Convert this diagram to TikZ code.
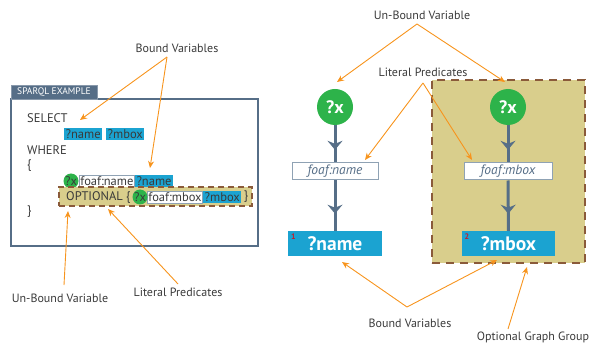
\documentclass[tikz,border=0pt]{standalone}
\usepackage{fontspec}
\setmainfont{PT Sans}
\usetikzlibrary{arrows.meta,decorations.markings}
\definecolor{slate}{HTML}{566E87}
\definecolor{cyanbox}{HTML}{1BA3D1}
\definecolor{greenc}{HTML}{2DB34A}
\definecolor{tanc}{HTML}{D9CE8C}
\definecolor{brownd}{HTML}{8A5A3A}
\definecolor{orangea}{HTML}{F7941D}
\definecolor{txt}{HTML}{3A3A3A}
\definecolor{foafb}{HTML}{8FA2B4}
\definecolor{redn}{HTML}{C0202E}
\tikzset{
  lbl/.style={font=\fontsize{12}{14}\selectfont, text=txt, inner sep=1pt},
  oarrow/.style={draw=orangea, line width=0.9pt, -{Stealth[length=7pt,width=6pt]}},
  code/.style={font=\fontsize{12.5}{14}\selectfont, text=txt, inner sep=0pt, anchor=west},
  hl/.style={font=\fontsize{12.5}{14}\selectfont, text=txt, fill=cyanbox, inner xsep=1.5pt, inner ysep=0pt, minimum height=12pt, anchor=west},
  foafc/.style={font=\fontsize{12.5}{14}\selectfont, text=txt, fill=white, draw=foafb, line width=0.8pt, inner xsep=1pt, inner ysep=0pt, minimum height=12pt, anchor=west},
  gcs/.style={circle, fill=greenc, minimum size=15pt, inner sep=0pt, font=\fontsize{12.5}{14}\selectfont, text=txt},
  bigc/.style={circle, fill=greenc, minimum size=36pt, inner sep=0pt, font=\bfseries\fontsize{18}{20}\selectfont, text=white},
  foafr/.style={rectangle, fill=white, draw=foafb, line width=1pt, minimum height=17pt, inner sep=0pt, font=\itshape\fontsize{13.5}{15}\selectfont, text=slate},
  varr/.style={rectangle, fill=cyanbox, minimum height=25pt, inner sep=0pt, font=\bfseries\fontsize{19.5}{21}\selectfont, text=white},
  flow/.style={draw=slate, line width=3pt, postaction={decorate}, decoration={markings, mark=at position 0.66 with {\arrow{Stealth[length=9pt,width=15pt,inset=3pt]}}}},
  grpbox/.style={rectangle, fill=tanc, draw=brownd, line width=2.2pt, dash pattern=on 8pt off 6pt},
  numr/.style={font=\bfseries\fontsize{8}{9}\selectfont, text=redn, inner sep=0pt}
}
\begin{document}
\begin{tikzpicture}[x=1pt,y=-1pt]
\useasboundingbox (0,0) rectangle (594,347);
% ---------- left panel ----------
\draw[slate, line width=2.5pt] (11,99) rectangle (258,246);
\node[fill=slate, draw=slate!70, line width=0.6pt, minimum width=86pt, minimum height=14pt, inner sep=0pt, text=white, font=\fontsize{9.5}{10}\selectfont] (tab) at (54,92) {SPARQL EXAMPLE};
\node[code] (sel) at (27,118) {SELECT};
\node[hl] (hname) at (64,134) {?name};
\node[hl] (hmbox) at (106,134) {?mbox};
\node[code] (where) at (27,150) {WHERE};
\node[code] (ob) at (27,166) {\{};
\node[foafc] (fn) at (79,181) {foaf:name};
\node[hl] (hname2) at (fn.east) {?name};
\node[gcs] (gx1) at (71,181) {?x};
\node[grpbox, line width=1.5pt, dash pattern=on 6pt off 4pt, minimum width=193pt, minimum height=19pt] (optband) at (155.5,196.5) {};
\node[code] (opt) at (66,197) {OPTIONAL \{};
\node[foafc] (fm) at (147,197) {foaf:mbox};
\node[hl] (hmbox2) at (fm.east) {?mbox};
\node[code] (cb2) at (hmbox2.east) {\,\}};
\node[gcs] (gx2) at (140,197) {?x};
\node[code] (cb) at (27,212) {\}};
% left labels
\node[lbl] (bvl) at (177,48) {Bound Variables};
\node[lbl] (ubl) at (60,298) {Un-Bound Variable};
\node[lbl] (lpl) at (178,292) {Literal Predicates};
\coordinate (bva) at (167,57);
\coordinate (t1) at (80,120);
\coordinate (t2) at (150,168);
\coordinate (uba) at (64,285);
\coordinate (t3) at (68,211);
\coordinate (lpa) at (178,284);
\coordinate (t4) at (108,209);
\draw[oarrow] (bva) -- (t1);
\draw[oarrow] (bva) -- (t2);
\draw[oarrow] (uba) -- (t3);
\draw[oarrow] (lpa) -- (t4);
% ---------- right panel ----------
\node[grpbox, minimum width=153pt, minimum height=183pt] (grp) at (508.5,171.5) {};
\node[bigc] (x1) at (335,107) {?x};
\node[foafr, minimum width=86pt] (f1) at (335,171.5) {foaf:name};
\node[varr, minimum width=94pt] (n1) at (335,243.5) {?name};
\node[bigc] (x2) at (508,107) {?x};
\node[foafr, minimum width=88pt] (f2) at (508,171.5) {foaf:mbox};
\node[varr, minimum width=93pt] (n2) at (508.5,243.5) {?mbox};
\node[numr] (no1) at (293.5,236.5) {1};
\node[numr] (no2) at (467,236.5) {2};
\draw[flow] (x1) -- (f1);
\draw[flow] (f1) -- (n1);
\draw[flow] (x2) -- (f2);
\draw[flow] (f2) -- (n2);
% right labels
\node[lbl] (ubr) at (422,15) {Un-Bound Variable};
\node[lbl] (lpr) at (423,72) {Literal Predicates};
\node[lbl] (bvr) at (410,323) {Bound Variables};
\node[lbl] (ogg) at (533,337) {Optional Graph Group};
\coordinate (uar) at (417,24);
\coordinate (t5) at (337,82);
\coordinate (t6) at (505,82);
\coordinate (lar) at (423,83);
\coordinate (t7) at (365,160);
\coordinate (t8) at (472,160);
\coordinate (bar) at (407,307);
\coordinate (t9) at (342,262);
\coordinate (t10) at (497,260);
\coordinate (oga) at (508,329);
\coordinate (t11) at (527,267);
\draw[oarrow] (uar) -- (t5);
\draw[oarrow] (uar) -- (t6);
\draw[oarrow] (lar) -- (t7);
\draw[oarrow] (lar) -- (t8);
\draw[oarrow] (bar) -- (t9);
\draw[oarrow] (bar) -- (t10);
\draw[oarrow] (oga) -- (t11);
\end{tikzpicture}
\end{document}
